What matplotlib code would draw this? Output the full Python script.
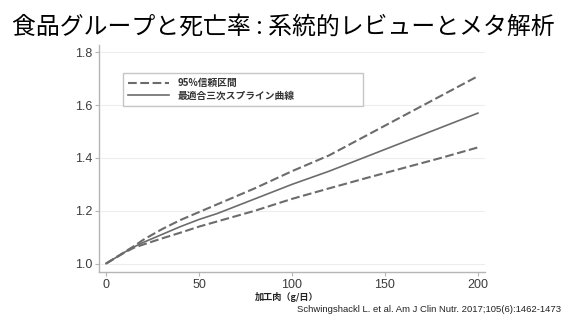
import matplotlib
matplotlib.use("Agg")
import matplotlib.pyplot as plt

plt.rcParams['font.family'] = ['Liberation Sans', 'Noto Sans CJK JP', 'DejaVu Sans']

# Processed meat intake (g/day) and relative risk
meat = [0, 10, 15, 20, 30, 40, 50, 60, 80, 100, 120, 140, 160, 180, 200]
rr_fit = [1.0, 1.043, 1.063, 1.08, 1.11, 1.14, 1.167, 1.19, 1.245, 1.30, 1.35, 1.405, 1.46, 1.515, 1.57]
rr_upper = [1.0, 1.044, 1.066, 1.09, 1.13, 1.165, 1.195, 1.225, 1.285, 1.35, 1.41, 1.485, 1.56, 1.635, 1.71]
rr_lower = [1.0, 1.042, 1.06, 1.072, 1.095, 1.117, 1.14, 1.16, 1.20, 1.245, 1.285, 1.324, 1.362, 1.40, 1.44]

yticks = [1.0, 1.2, 1.4, 1.6, 1.8]
xticks = [0, 50, 100, 150, 200]

title = "食品グループと死亡率 : 系統的レビューとメタ解析"
xlabel = "加工肉（g/日）"
legend_ci = "95%信頼区間"
legend_fit = "最適合三次スプライン曲線"
citation = "Schwingshackl L. et al. Am J Clin Nutr. 2017;105(6):1462-1473"

W, H = 567, 319
fig = plt.figure(figsize=(W / 100, H / 100), dpi=100)
ax = fig.add_axes([99 / W, 1 - 272 / H, 386 / W, 227 / H])

line_color = "#6c6c6c"
ax.plot(meat, rr_upper, color=line_color, lw=1.5, dashes=(4.2, 1.7), label=legend_ci)
ax.plot(meat, rr_fit, color=line_color, lw=1.2, label=legend_fit)
ax.plot(meat, rr_lower, color=line_color, lw=1.5, dashes=(4.2, 1.7))

ax.set_xlim(-3.8, 203.8)
ax.set_ylim(0.968, 1.828)
ax.set_yticks(yticks)
ax.set_yticklabels([f"{v:.1f}" for v in yticks])
ax.set_xticks(xticks)

ax.grid(axis="y", color="#ededed", lw=0.8)
ax.set_axisbelow(True)
for side in ["top", "right"]:
    ax.spines[side].set_visible(False)
for side in ["left", "bottom"]:
    ax.spines[side].set_color("#b5b5b5")
    ax.spines[side].set_linewidth(1.0)
ax.tick_params(colors="#b5b5b5", labelcolor="#3c3c3c", labelsize=9, length=3,
               width=0.8, pad=2)

fig.text(255 / W, 1 - 297 / H, xlabel, ha="left", va="center", fontsize=6.6,
         color="#222222", family=["Noto Sans CJK JP"], fontweight="bold")

leg = ax.legend(loc="upper left",
                bbox_to_anchor=(118 / W, 1 - 105 / H, 250 / W, 37 / H),
                bbox_transform=fig.transFigure, mode="expand",
                prop={"family": ["Noto Sans CJK JP"], "size": 7, "weight": "bold"},
                frameon=True, fancybox=False, edgecolor="#b8b8b8",
                handlelength=4.2, borderpad=0.55, labelspacing=0.25,
                handletextpad=0.9)
leg.get_frame().set_linewidth(1.0)
for t in leg.get_texts():
    t.set_color("#333333")

fig.text(283.5 / W, 1 - 27 / H, title, ha="center", va="center", fontsize=17.2,
         family=["Noto Sans CJK JP"], color="black")
fig.text(297 / W, 1 - 310 / H, citation, ha="left", va="center",
         fontsize=6.8, color="#222222")

fig.savefig("out.png", dpi=100)
